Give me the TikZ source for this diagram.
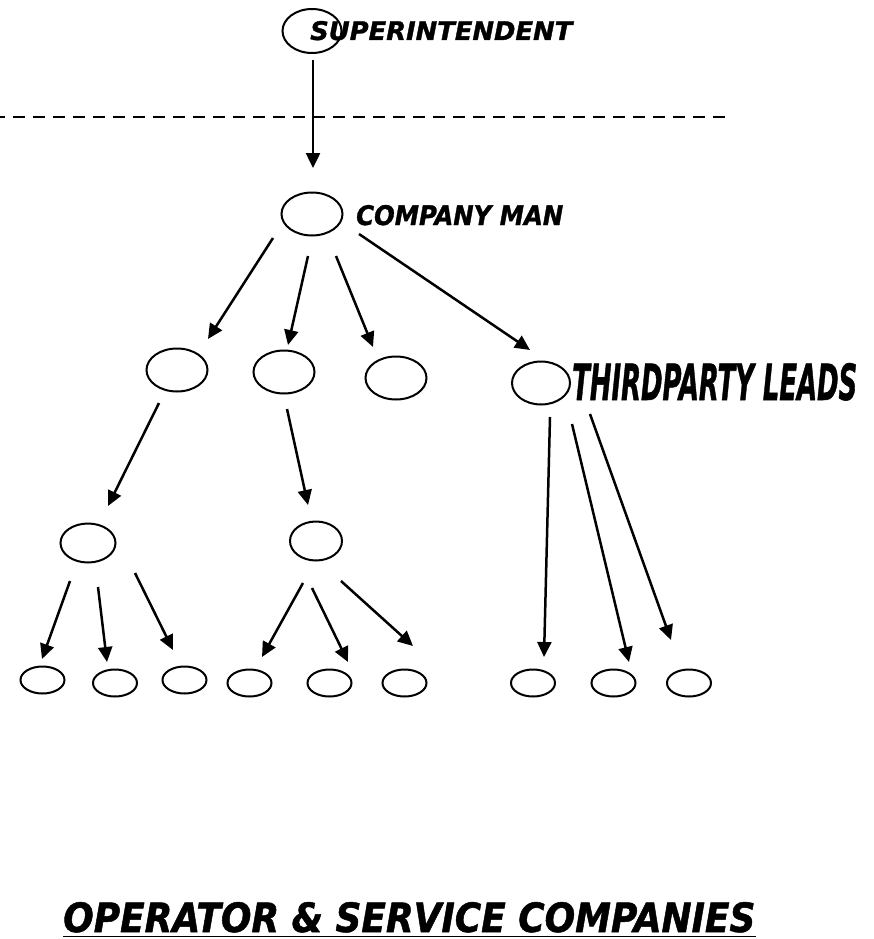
\documentclass[tikz,border=0pt]{standalone}
\usepackage{fontspec}
\usepackage{graphicx}
\setmainfont{DejaVu Sans Condensed}
\usetikzlibrary{shapes.geometric,arrows.meta}
\newcommand{\lblfont}{\bfseries\itshape\addfontfeatures{FakeBold=1.2}}
\begin{document}
\begin{tikzpicture}[x=1pt,y=-1pt,
  oval/.style={draw,ellipse,line width=2pt,inner sep=0pt,minimum width=#1},
  big/.style={oval=61pt,minimum height=43pt},
  mid/.style={oval=55pt,minimum height=39pt},
  leaf/.style={oval=44pt,minimum height=27pt},
  arr/.style={line width=2.5pt,-{Triangle[length=15pt,width=14pt]}},
  lbl/.style={anchor=base west,inner sep=0pt}]
\useasboundingbox (0,0) rectangle (873,939);
% nodes
\node[big,minimum width=59pt,minimum height=44pt] (sup) at (312,31) {};
\node[big] (cm) at (312,214) {};
\node[big] (e1) at (177,370) {};
\node[big] (e2) at (284,372) {};
\node[big] (e3) at (396,378) {};
\node[big,minimum width=58pt] (tp) at (541,383) {};
\node[mid] (e4) at (88,543) {};
\node[mid,minimum width=52pt] (e5) at (316,541) {};
\foreach \n/\x/\y in {a/42.5/680,b/115/683,c/184.5/680,d/249.5/683,e/329.5/683,f/404.5/683,g/533/683,h/613.5/683,i/689/683}
  \node[leaf] (\n) at (\x,\y) {};
% labels
\node[lbl] (supl) at (310,40) {\resizebox{262pt}{19pt}{\lblfont SUPERINTENDENT}};
\node[lbl] (cml) at (356,225) {\resizebox{207pt}{20pt}{\lblfont COMPANY MAN}};
\node[lbl] (tpl) at (572,400) {\resizebox{285pt}{37pt}{\lblfont THIRDPARTY LEADS}};
\node[lbl] (title) at (63,932) {\resizebox{692pt}{30pt}{\lblfont OPERATOR \& SERVICE COMPANIES}};
\draw[line width=1.8pt] ([yshift=-4.5pt]title.base west) -- ([yshift=-4.5pt]title.base east);
% dashed line
\coordinate (dl) at (0,117);
\coordinate (dr) at (731,117);
\draw[line width=2.2pt,dash pattern=on 12pt off 8pt,dash phase=7pt] (dl) -- (dr);
% connector end points
\coordinate (s0) at (313,60);   \coordinate (t0) at (313,168);
\coordinate (s1) at (273,238);  \coordinate (t1) at (208,339);
\coordinate (s2) at (308,256);  \coordinate (t2) at (288,345);
\coordinate (s3) at (336,256);  \coordinate (t3) at (373,347);
\coordinate (s4) at (359,234);  \coordinate (t4) at (530,350);
\coordinate (s5) at (159,403);  \coordinate (t5) at (108,506);
\coordinate (s6) at (287,409);  \coordinate (t6) at (308,505);
\coordinate (s7) at (70,581);   \coordinate (t7) at (42,659);
\coordinate (s8) at (98,587);   \coordinate (t8) at (107,662);
\coordinate (s9) at (135,573);  \coordinate (t9) at (173,650);
\coordinate (s10) at (303,583); \coordinate (t10) at (262,657);
\coordinate (s11) at (312,588); \coordinate (t11) at (348,662);
\coordinate (s12) at (341,581); \coordinate (t12) at (413,646);
\coordinate (s13) at (550,417); \coordinate (t13) at (544,657);
\coordinate (s14) at (572,424); \coordinate (t14) at (629,662);
\coordinate (s15) at (590,414); \coordinate (t15) at (671,640);
\foreach \k in {0,...,15} \draw[arr] (s\k) -- (t\k);
\end{tikzpicture}
\end{document}
